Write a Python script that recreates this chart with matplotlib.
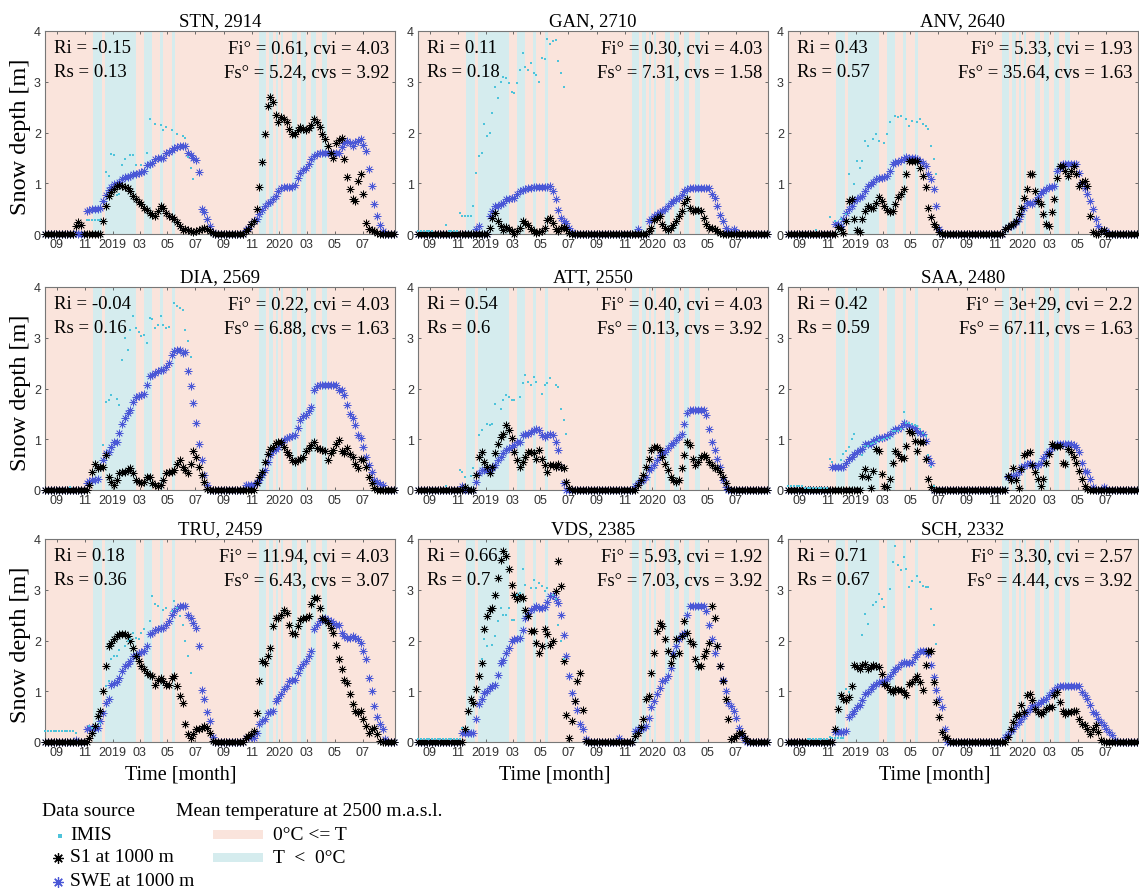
import numpy as np
import pandas as pd
import matplotlib
matplotlib.use("Agg")
import matplotlib.pyplot as plt
import matplotlib.dates as mdates
from matplotlib.patches import Rectangle

SERIF = ["Liberation Serif", "DejaVu Serif"]
SANS = ["Liberation Sans", "DejaVu Sans"]

# ---------------- time sampling: sample k is T0 + 6*k days ----------------
T0 = "2018-08-07"
STEP_DAYS = 6
N_SAMPLES = 128
dates = pd.Timestamp(T0) + pd.to_timedelta(np.arange(N_SAMPLES) * STEP_DAYS, unit="D")

# ---------------- station info ----------------
names = ["STN", "GAN", "ANV", "DIA", "ATT", "SAA", "TRU", "VDS", "SCH"]
elevations = [2914, 2710, 2640, 2569, 2550, 2480, 2459, 2385, 2332]
Ri = ["-0.15", "0.11", "0.43", "-0.04", "0.54", "0.42", "0.18", "0.66", "0.71"]
Rs = ["0.13", "0.18", "0.57", "0.16", "0.6", "0.59", "0.36", "0.7", "0.67"]
Fi = ["0.61", "0.30", "5.33", "0.22", "0.40", "3e+29", "11.94", "5.93", "3.30"]
cvi = ["4.03", "4.03", "1.93", "4.03", "4.03", "2.2", "4.03", "1.92", "2.57"]
Fs = ["5.24", "7.31", "35.64", "6.88", "0.13", "67.11", "6.43", "7.03", "4.44"]
cvs = ["3.92", "1.58", "1.63", "1.63", "3.92", "1.63", "3.07", "3.92", "3.92"]

# periods with mean temperature at 2500 m a.s.l. below 0 degC
cold_start = ["2018-11-19", "2018-12-15", "2019-03-10", "2019-04-15", "2019-05-11",
              "2019-11-17", "2019-12-10", "2019-12-25", "2020-01-04", "2020-01-28",
              "2020-02-17", "2020-03-10", "2020-04-04"]
cold_end = ["2018-12-08", "2019-02-21", "2019-03-28", "2019-04-21", "2019-05-17",
            "2019-12-03", "2019-12-17", "2019-12-30", "2020-01-08", "2020-02-08",
            "2020-02-28", "2020-03-22", "2020-04-15"]

tick_dates = ["2018-09-01", "2018-11-01", "2019-01-01", "2019-03-01", "2019-05-01",
              "2019-07-01", "2019-09-01", "2019-11-01", "2020-01-01", "2020-03-01",
              "2020-05-01", "2020-07-01"]
tick_labels = ["09", "11", "2019", "03", "05", "07", "09", "11", "2020", "03", "05", "07"]

# ---------------- snow depth series [m]: (first sample index, values) ----------------
STN_S1 = [(11, [0.15, 0.23, 0.18]),
          (21, [0.25, 0.56, 0.75, 0.82, 0.88, 0.95, 0.97, 0.95, 0.92, 0.9, 0.85, 0.75, 0.68, 0.63, 0.6,
                0.52, 0.47, 0.42, 0.38, 0.36, 0.45, 0.55, 0.52, 0.42, 0.36, 0.33, 0.3, 0.24, 0.16, 0.08,
                0.1, 0.08, 0.05, 0.03, 0.06, 0.08, 0.1, 0.11, 0.09, 0.05, 0.02]),
          (73, [0.05, 0.1, 0.2, 0.26, 0.5, 0.92, 1.42, 1.97, 2.53, 2.7, 2.6, 2.34, 2.2, 2.3, 2.27, 2.2,
                2.07, 1.97, 1.98, 2.04, 2.1, 2.07, 2.04, 2.08, 2.14, 2.27, 2.2, 2.1, 1.97, 1.87, 1.74,
                1.6, 1.5, 1.8, 1.85, 1.9, 1.48, 1.12, 0.89, 0.69, 0.66, 1.05, 1.18, 0.79, 0.22, 0.1,
                0.08, 0.06, 0.02])]
STN_SWE = [(11, [0.02]),
           (15, [0.45, 0.48, 0.5, 0.5, 0.5, 0.52, 0.66, 0.76, 0.86, 0.93, 0.98, 0.99, 1.02, 1.09, 1.12,
                 1.13, 1.14, 1.18, 1.19, 1.2, 1.22, 1.25, 1.35, 1.37, 1.4, 1.48, 1.49, 1.5, 1.5, 1.6,
                 1.62, 1.65, 1.7, 1.72, 1.73, 1.74, 1.74, 1.6, 1.55, 1.5, 1.45, 1.22, 0.5, 0.43, 0.3,
                 0.16, 0.04]),
           (73, [0.07, 0.12, 0.2, 0.25, 0.3, 0.4, 0.48, 0.56, 0.61, 0.63, 0.69, 0.75, 0.84, 0.9, 0.92,
                 0.92, 0.92, 0.92, 0.97, 1.1, 1.2, 1.26, 1.31, 1.38, 1.48, 1.54, 1.58, 1.6, 1.6, 1.6,
                 1.6, 1.6, 1.6, 1.6, 1.6, 1.72, 1.8, 1.84, 1.8, 1.74, 1.82, 1.84, 1.87, 1.75, 1.64,
                 1.28, 0.95, 0.6, 0.35, 0.17, 0.05])]
STN_IMIS = [(15, [0.28, 0.28, 0.27, 0.27, 0.27, 0.27, None, 1.22, 1.15, 1.58, 1.55, 0.77, 0.78, 1.35,
                  1.48, None, 1.55, 1.55, 1.35, None, 1.35, None, 1.6, 2.27, None, 2.17, None, 2.14,
                  2.04, 2.1, None, 2.04, None, 1.97, None, 1.94, 1.9, 1.51, 1.31, 1.08])]

GAN_S1 = [(26, [0.12, 0.32, 0.41, 0.25, 0.15, 0.08, 0.13, 0.1, 0.05, 0.0, 0.05, 0.12, 0.25, 0.22, 0.18,
                0.1, 0.05, 0.02, 0.03, 0.05, 0.12, 0.28, 0.32, 0.22, 0.1, 0.05, 0.12, 0.13, 0.09, 0.02]),
          (84, [0.05, 0.12, 0.28, 0.32, 0.36, 0.2, 0.12, 0.08, 0.12, 0.18, 0.25, 0.35, 0.45, 0.61, 0.68,
                0.51, 0.45, 0.48, 0.47, 0.45, 0.32, 0.2, 0.12, 0.12, 0.09, 0.05, 0.02])]
GAN_SWE = [(21, [0.09, 0.15]),
           (26, [0.35, 0.45, 0.55, 0.55, 0.6, 0.61, 0.68, 0.68, 0.7, 0.71, 0.78, 0.84, 0.86, 0.88, 0.9,
                 0.91, 0.92, 0.92, 0.92, 0.92, 0.92, 0.92, 0.94, 0.84, 0.68, 0.48, 0.32, 0.25, 0.22,
                 0.12, 0.03]),
           (80, [0.09]),
           (84, [0.25, 0.3, 0.36, 0.4, 0.43, 0.46, 0.5, 0.55, 0.62, 0.66, 0.68, 0.71, 0.76, 0.84, 0.88,
                 0.91, 0.91, 0.91, 0.91, 0.91, 0.91, 0.91, 0.9, 0.78, 0.71, 0.55, 0.38, 0.25, 0.12,
                 0.05, 0.03, 0.09, 0.04])]
GAN_IMIS = [(0, [0.05, 0.05, 0.05, 0.05, 0.05, 0.05, None, None, None, None, 0.18, 0.05, 0.05, 0.05,
                 0.05, 0.41, 0.35, 0.35, 0.35, 0.36, 0.55, 1.2, 1.53, 1.6, 2.16, 1.93, 2.0, 2.39, 2.9,
                 2.68, 3.0, 3.1, 3.07, 2.98, 2.8, 2.78, 2.98, 3.24, 3.57, 3.3, 3.24, 3.37, 3.18, 3.14,
                 3.0, 3.47, 3.44, 3.84, 3.74, 3.8, 3.82, 3.41, 3.18, 2.9])]

ANV_S1 = [(18, [0.13, 0.1, 0.02, 0.26, 0.66, 0.69, 0.3, 0.07, 0.03, 0.3, 0.46, 0.56, 0.52, 0.52, 0.62,
                0.72, 0.66, 0.56, 0.48, 0.43, 0.46, 0.59, 0.72, 0.79, 0.89, 1.18, 1.44, 1.44, 1.44,
                1.44, 1.3, 1.15, 0.92, 0.52, 0.33, 0.2, 0.13, 0.03]),
          (79, [0.1, 0.14, 0.18, 0.2, 0.26, 0.39, 0.52, 0.7, 0.89, 1.18, 1.18, 0.85, 0.66, 0.59, 0.39,
                0.2, 0.16, 0.43, 0.69, 1.11, 1.34, 1.34, 1.25, 1.15, 1.25, 1.34, 1.18, 0.95, 1.02, 1.05,
                0.95, 0.36, 0.03, 0.0, 0.0, 0.05, 0.07])]
ANV_SWE = [(17, [0.2, 0.2, 0.16, 0.3, 0.42, 0.5, 0.56, 0.66, 0.69, 0.72, 0.75, 0.85, 0.95, 0.98, 1.02,
                 1.08, 1.11, 1.11, 1.12, 1.15, 1.25, 1.38, 1.41, 1.41, 1.45, 1.48, 1.52, 1.5, 1.49,
                 1.49, 1.48, 1.44, 1.4, 1.34, 1.18, 1.08, 0.89, 0.56, 0.1]),
           (79, [0.1, 0.13, 0.15, 0.18, 0.23, 0.3, 0.39, 0.52, 0.62, 0.62, 0.59, 0.66, 0.72, 0.8, 0.85,
                 0.89, 0.92, 0.93, 0.95, 1.25, 1.31, 1.38, 1.38, 1.38, 1.38, 1.38, 1.38, 1.2, 1.0, 0.9,
                 0.79, 0.66, 0.49, 0.3, 0.15, 0.05, 0.07, 0.05])]
ANV_IMIS = [(10, [0.07]),
            (15, [0.33, None, 0.26, None, 0.3, None, 0.39, 1.18, None, 0.98, 1.44, 1.31, 1.44, 1.84,
                  1.74, None, 1.87, 1.97, 1.84, None, 1.8, 1.97, 2.2, None, 2.33, 2.3, 2.33, None,
                  2.26, 2.13, 2.23, None, 2.2, 2.26, 2.16, 2.13, 2.07, 1.74, 1.48, 1.18])]

DIA_S1 = [(16, [0.1, 0.36, 0.52, 0.43, 0.45, 0.46, 0.69, 0.26, 0.15, 0.1, 0.2, 0.33, 0.36, 0.36, 0.4,
                0.43, 0.33, 0.2, 0.15, 0.13, 0.16, 0.26, 0.26, 0.13, 0.1, 0.07, 0.1, 0.2, 0.33, 0.35,
                0.36, 0.4, 0.52, 0.59, 0.46, 0.4, 0.33, 0.52, 0.76, 0.66, 0.46, 0.3, 0.16, 0.02]),
          (77, [0.13, 0.25, 0.36, 0.55, 0.7, 0.8, 0.85, 0.92, 0.95, 0.94, 0.85, 0.75, 0.69, 0.59, 0.56,
                0.6, 0.62, 0.66, 0.76, 0.82, 0.89, 0.95, 0.82, 0.8, 0.79, 0.76, 0.59, 0.72, 0.79, 0.9,
                0.99, 0.76, 0.72, 0.82, 0.7, 0.66, 0.52, 0.43, 0.62, 0.59, 0.45, 0.25, 0.13, 0.03])]
DIA_SWE = [(15, [0.13, 0.18, 0.2, 0.2, 0.22, 0.46, 0.6, 0.72, 0.75, 0.85, 0.95, 0.95, 1.12, 1.3, 1.41,
                 1.51, 1.58, 1.74, 1.84, 1.86, 1.87, 1.9, 2.07, 2.24, 2.27, 2.3, 2.34, 2.37, 2.37, 2.43,
                 2.5, 2.66, 2.73, 2.75, 2.76, 2.7, 2.72, 2.34, 2.04, 1.71, 1.32, 0.9, 0.59, 0.3, 0.1]),
           (73, [0.1, 0.1, 0.1, 0.1, 0.16, 0.2, 0.3, 0.4, 0.56, 0.69, 0.76, 0.8, 0.85, 0.92, 0.99, 1.02,
                 1.05, 1.07, 1.09, 1.22, 1.38, 1.45, 1.48, 1.55, 1.64, 1.97, 2.04, 2.07, 2.07, 2.07,
                 2.07, 2.07, 2.07, 2.07, 1.97, 1.97, 1.87, 1.68, 1.5, 1.41, 1.28, 1.09, 1.02, 0.85,
                 0.66, 0.5, 0.36, 0.2, 0.15, 0.12, 0.1])]
DIA_IMIS = [(9, [0.05]),
            (21, [0.89, 1.74, 1.78, 1.87, None, 1.8, 1.68, 2.57, 2.99, 2.76, 3.16, 3.42, 3.19, 3.12,
                  3.03, 3.06, 2.9, 3.39, 3.36, 3.19, 3.26, 3.42, 3.26, 3.19, 3.22, None, 3.68, 3.62,
                  3.59, 3.55, 3.16, 2.93, 2.63])]

ATT_S1 = [(17, [0.05]),
          (21, [0.3, 0.66, 0.75, 0.56, 0.46, 0.33, 0.46, 0.72, 0.9, 1.05, 1.11, 1.28, 1.18, 1.02, 0.75,
                0.59, 0.46, 0.56, 0.66, 0.75, 0.75, 0.72, 0.62, 0.79, 0.62, 0.5, 0.36, 0.49, 0.49, 0.46,
                0.52, 0.45, 0.43, 0.16, 0.03]),
          (80, [0.1, 0.2, 0.3, 0.46, 0.62, 0.79, 0.85, 0.85, 0.79, 0.66, 0.52, 0.39, 0.26, 0.2, 0.16,
                0.2, 0.43, 0.69, 0.95, 0.89, 0.62, 0.49, 0.55, 0.66, 0.69, 0.66, 0.56, 0.49, 0.43, 0.43,
                0.35, 0.26, 0.13, 0.02])]
ATT_SWE = [(16, [0.08]),
           (21, [0.16, 0.33, 0.39, 0.39, 0.39, 0.39, 0.43, 0.49, 0.59, 0.66, 0.72, 0.78, 0.82, 0.85,
                 0.89, 0.95, 0.95, 1.08, 1.11, 1.11, 1.15, 1.18, 1.21, 1.18, 1.08, 1.05, 1.08, 1.11,
                 1.08, 0.95, 0.79, 0.46, 0.13]),
           (79, [0.07, 0.13, 0.17, 0.2, 0.26, 0.39, 0.43, 0.5, 0.6, 0.69, 0.75, 0.75, 0.82, 0.88, 0.92,
                 0.98, 1.05, 1.11, 1.31, 1.51, 1.57, 1.57, 1.57, 1.57, 1.57, 1.57, 1.48, 1.21, 0.95,
                 0.79, 0.62, 0.46, 0.2, 0.05])]
ATT_IMIS = [(10, [0.07]),
            (15, [0.39, 0.36, 0.26, None, 0.28, 0.43, None, 1.08, 1.18, None, 1.31, 1.28, 1.31, 1.7,
                  None, 1.6, 1.77, 1.87, 1.84, 1.77, 1.77, None, 1.84, 2.1, 2.26, 2.13, 2.07, 2.23,
                  2.13, None, 1.9, 2.07, 2.1, 2.2, None, 2.07, 2.03, 1.6, 1.38, 1.11])]

SAA_S1 = [(27, [0.28, 0.41, 0.25, 0.03, 0.38, 0.8, 0.77, 0.31, 0.08, 0.05, 0.22, 0.54, 0.77, 0.7, 0.64,
                0.64, 0.87, 1.17, 1.13, 0.97, 0.77, 0.94, 0.94, 0.61, 0.22, 0.05]),
          (80, [0.28, 0.2, 0.43, 0.2, 0.03, 0.41, 0.68, 0.73, 0.74, 0.5, 0.35, 0.22, 0.08, 0.22, 0.54,
                0.71, 0.9, 0.87, 0.87, 0.87, 0.54, 0.51, 0.8, 0.74, 0.65, 0.54, 0.38, 0.22, 0.08, 0.02])]
SAA_SWE = [(16, [0.45, 0.45, 0.45, 0.45, 0.45, 0.54, 0.61, 0.65, 0.7, 0.74, 0.78, 0.8, 0.9, 0.9, 0.9,
                 0.97, 1.0, 1.02, 1.03, 1.04, 1.07, 1.1, 1.17, 1.2, 1.2, 1.25, 1.33, 1.3, 1.27, 1.25,
                 1.23, 1.17, 1.13, 1.1, 0.97, 0.64, 0.54]),
           (80, [0.25, 0.28, 0.28, 0.3, 0.35, 0.45, 0.48, 0.51, 0.54, 0.5, 0.48, 0.49, 0.54, 0.64, 0.71,
                 0.77, 0.82, 0.87, 0.9, 0.9, 0.9, 0.9, 0.9, 0.9, 0.88, 0.84, 0.74, 0.54, 0.38, 0.35,
                 0.22, 0.05, 0.0, 0.0, 0.0, 0.05])]
SAA_IMIS = [(0, [0.07] * 6 + [0.03] * 9),
            (15, [0.62, 0.55, None, None, 0.6, 0.7, 0.76, 0.85, 1.0, 1.1, None, None, 0.68, 0.87, 0.87,
                  0.9, 0.93, 0.95, 0.99, 0.99, 1.0, 1.02, 1.04, 1.17, 1.17, 1.17, 1.2, 1.53, 1.33,
                  1.33, 1.3, 1.28, 1.27, 1.2, 1.13, 1.07, 0.68, 0.45, 0.08])]

TRU_S1 = [(16, [0.08, 0.18, 0.31, 0.51, 0.61, 1.0, 1.5, 1.89, 1.95, 2.02, 2.08, 2.12, 2.12, 2.12, 2.08,
                1.99, 1.86, 1.69, 1.6, 1.5, 1.43, 1.36, 1.33, 1.3, 1.12, 1.23, 1.27, 1.2, 1.12, 1.12,
                1.27, 1.3, 1.1, 0.9, 0.77, 0.35, 0.15, 0.07, 0.15, 0.25, 0.25, 0.28, 0.31, 0.28, 0.18,
                0.02]),
          (73, [0.08, 0.12, 0.15, 0.22, 0.58, 1.2, 1.59, 1.56, 1.7, 1.86, 2.28, 2.45, 2.45, 2.51, 2.61,
                2.54, 2.31, 2.15, 2.12, 2.28, 2.4, 2.45, 2.45, 2.48, 2.71, 2.84, 2.84, 2.64, 2.45, 2.41,
                2.35, 2.25, 2.15, 1.92, 1.63, 1.43, 1.23, 1.17, 0.94, 0.74, 0.61, 0.58, 0.61, 0.45,
                0.31, 0.18, 0.25, 0.28, 0.15, 0.02])]
TRU_SWE = [(11, [0.03]),
           (15, [0.25, 0.28, 0.28, 0.28, 0.28, 0.41, 0.58, 0.77, 0.84, 1.13, 1.17, 1.18, 1.27, 1.4, 1.5,
                 1.53, 1.59, 1.69, 1.72, 1.76, 1.78, 1.79, 1.89, 2.12, 2.15, 2.2, 2.22, 2.25, 2.25, 2.31,
                 2.38, 2.5, 2.58, 2.64, 2.68, 2.68, 2.68, 2.51, 2.45, 2.35, 2.25, 1.89, 1.03, 0.84, 0.6,
                 0.41, 0.1]),
           (73, [0.08, 0.1, 0.09, 0.08, 0.18, 0.35, 0.41, 0.46, 0.58, 0.6, 0.61, 0.81, 0.87, 0.95, 1.05,
                 1.1, 1.2, 1.23, 1.23, 1.36, 1.45, 1.53, 1.59, 1.69, 1.8, 2.22, 2.3, 2.38, 2.41, 2.45,
                 2.41, 2.38, 2.35, 2.31, 2.31, 2.15, 2.08, 2.05, 2.05, 2.08, 2.05, 2.02, 1.95, 1.8, 1.63,
                 1.27, 1.0, 0.71, 0.5, 0.35, 0.25, 0.05])]
TRU_IMIS = [(0, [0.22] * 11 + [0.18]),
            (16, [0.31, 0.28, None, None, 0.38, None, 1.1, 1.2, 1.63, 1.69, 1.69, 1.82, None, 1.89,
                  1.99, 2.02, 2.15, 2.05, 2.02, 2.15, 2.22, None, 2.38, 2.87, 2.71, 2.68, None, 2.61,
                  2.64, None, 2.58, 2.77, 2.64, 2.48, 2.31, 1.99, 1.69, 1.36])]

VDS_S1 = [(17, [0.25, 0.61, 0.84, 0.77, 1.04, 1.3, 1.56, 2.22, 2.48, 2.61, 2.64, 2.9, 3.23, 3.59, 3.76,
                3.66, 3.4, 3.1, 2.9, 2.81, 2.87, 2.84, 2.6, 2.48, 2.18, 2.18, 1.95, 1.76, 1.89, 2.22,
                2.12, 1.92, 1.99, 2.97, 3.56, 3.07, 1.59, 0.54, 0.08, 0.41, 0.8, 1.2, 1.36, 0.64, 0.02]),
          (79, [0.12, 0.18, 0.3, 0.45, 0.84, 0.9, 1.36, 1.76, 2.18, 2.35, 2.28, 2.02, 1.79, 1.56, 1.69,
                2.02, 1.76, 2.08, 2.38, 2.15, 2.0, 1.94, 1.63, 1.5, 1.5, 1.69, 1.8, 1.95, 2.68, 2.45,
                1.9, 1.5, 1.2, 0.84, 0.45, 0.05, 0.08, 0.12, 0.18, 0.18, 0.08, 0.02])]
VDS_SWE = [(16, [0.18, 0.18, 0.18, 0.18, 0.18, 0.45, 0.74, 0.85, 0.97, 1.0, 1.07, 1.1, 1.13, 1.33, 1.56,
                 1.62, 1.75, 1.85, 1.99, 2.02, 2.02, 2.05, 2.2, 2.45, 2.55, 2.6, 2.64, 2.68, 2.64, 2.64,
                 2.66, 2.75, 2.87, 2.9, 2.81, 2.74, 2.5, 2.1, 1.7, 1.3, 0.97, 0.8, 0.64, 0.35, 0.25,
                 0.05]),
           (73, [0.07]),
           (79, [0.22, 0.25, 0.25, 0.28, 0.31, 0.48, 0.68, 0.81, 0.95, 1.07, 1.2, 1.23, 1.3, 1.46, 1.76,
                 1.89, 2.02, 2.1, 2.15, 2.51, 2.68, 2.68, 2.68, 2.68, 2.68, 2.68, 2.58, 2.31, 2.02, 1.76,
                 1.89, 1.5, 1.23, 1.0, 0.77, 0.7, 0.61, 0.48, 0.28, 0.12, 0.03])]
VDS_IMIS = [(0, [0.05] * 16),
            (16, [0.28, None, None, None, None, None, None, 1.63, 2.02, 1.89, None, 1.92, 2.08, 2.38,
                  2.64, 2.51, 2.51, 2.64, 2.41, 2.41, 2.9, 2.94, 3.4, 3.1, None, 3.04, 3.2, 3.04, 3.13,
                  3.07, 2.97, 3.04, None, 2.9, 2.81, 2.31, 1.99, 1.63])]

SCH_S1 = [(17, [0.26, 0.66, 0.92, 0.85, 0.82, 0.89, 1.11, 1.51, 1.48, 1.44, 1.51, 1.54, 1.44, 1.48, 1.51,
                1.5, 1.48, 1.34, 1.15, 1.11, 1.02, 0.98, 1.05, 1.02, 1.02, 0.98, 0.92, 1.15, 1.18, 1.25,
                1.31, 1.18, 1.02, 1.51, 1.8, 1.8, 1.18, 0.79, 0.49, 0.2, 0.1, 0.08]),
          (80, [0.1, 0.26, 0.4, 0.52, 0.56, 0.72, 0.59, 0.92, 0.95, 0.82, 0.66, 0.59, 0.56, 0.59, 0.66,
                0.69, 0.69, 0.92, 0.98, 0.79, 0.62, 0.56, 0.59, 0.6, 0.62, 0.62, 0.46, 0.36, 0.33, 0.25,
                0.16, 0.26, 0.33, 0.2, 0.03])]
SCH_SWE = [(17, [0.2, 0.2, 0.2, 0.2, 0.22, 0.49, 0.56, 0.62, 0.69, 0.72, 0.82, 0.95, 0.98, 1.05, 1.1,
                 1.15, 1.18, 1.19, 1.21, 1.25, 1.3, 1.38, 1.44, 1.48, 1.54, 1.57, 1.55, 1.55, 1.57, 1.67,
                 1.74, 1.8, 1.8, 1.8, 1.74, 1.51, 1.28, 1.02, 0.85, 0.69, 0.26]),
           (79, [0.1, 0.16, 0.22, 0.26, 0.33, 0.39, 0.46, 0.52, 0.59, 0.66, 0.72, 0.69, 0.75, 0.79, 0.82,
                 0.85, 0.92, 0.98, 1.02, 1.08, 1.1, 1.11, 1.11, 1.11, 1.11, 1.11, 1.11, 1.11, 0.98, 0.92,
                 0.85, 0.72, 0.6, 0.56, 0.46, 0.39, 0.33, 0.26, 0.2, 0.13, 0.03])]
SCH_IMIS = [(7, [0.05] * 8),
            (15, [0.1, 0.08, 0.08, 0.08, 0.08, 0.08, 1.05, 0.98, None, None, None, None, 2.1, 2.52, 2.33,
                  None, 2.69, 2.75, 2.92, 2.82, 2.66, None, 3.02, 3.54, 3.87, 3.48, 3.38, 3.64, 3.41,
                  3.05, 3.18, None, 3.28, 3.15, 3.08, 3.05, 3.05, 2.62, 2.3, 1.93])]

S1_ALL = [STN_S1, GAN_S1, ANV_S1, DIA_S1, ATT_S1, SAA_S1, TRU_S1, VDS_S1, SCH_S1]
SWE_ALL = [STN_SWE, GAN_SWE, ANV_SWE, DIA_SWE, ATT_SWE, SAA_SWE, TRU_SWE, VDS_SWE, SCH_SWE]
IMIS_ALL = [STN_IMIS, GAN_IMIS, ANV_IMIS, DIA_IMIS, ATT_IMIS, SAA_IMIS, TRU_IMIS, VDS_IMIS, SCH_IMIS]


def build(segments, fill):
    arr = np.full(N_SAMPLES, fill, dtype=float)
    for start, vals in segments:
        v = np.array([np.nan if x is None else x for x in vals], dtype=float)
        end = min(N_SAMPLES, start + len(v))
        arr[start:end] = v[:end - start]
    return arr


# ---------------- style ----------------
PINK = "#FAE4DC"
COLD = "#D5ECEE"
C_IMIS = "#4EC3DA"
C_S1 = "#000000"
C_SWE = "#4A57D6"
AST = (8, 2, 0)

W, H = 1139, 895
fig = plt.figure(figsize=(W / 100, H / 100), dpi=100)

ov = fig.add_axes([0, 0, 1, 1])
ov.set_xlim(0, W)
ov.set_ylim(H, 0)
ov.axis("off")

col_left = [45, 418, 788]
row_top = [32, 288, 540]
ax_w, ax_h = 350, 203

xnum_ticks = mdates.date2num(pd.to_datetime(tick_dates))
x0 = mdates.date2num(pd.Timestamp("2018-08-06"))
x1 = mdates.date2num(pd.Timestamp("2020-09-10"))

for k in range(9):
    r, c = divmod(k, 3)
    ax = fig.add_axes([col_left[c] / W, 1 - (row_top[r] + ax_h) / H, ax_w / W, ax_h / H])
    ax.set_facecolor(PINK)
    for s, e in zip(cold_start, cold_end):
        ax.axvspan(mdates.date2num(pd.Timestamp(s)), mdates.date2num(pd.Timestamp(e)),
                   color=COLD, lw=0, zorder=0.5)
    s1 = build(S1_ALL[k], 0.0)
    swe = build(SWE_ALL[k], 0.0)
    imis = build(IMIS_ALL[k], np.nan)
    ax.plot(dates, swe, ls="none", marker=AST, ms=5.6, mew=0.5, color=C_SWE, clip_on=False, zorder=3)
    ax.plot(dates, s1, ls="none", marker=AST, ms=5.6, mew=0.5, color=C_S1, clip_on=False, zorder=4)
    ax.plot(dates, imis, ls="none", marker="s", ms=1.9, mew=0, color=C_IMIS, clip_on=False, zorder=5)

    ax.set_xlim(x0, x1)
    ax.set_ylim(0, 4)
    ax.set_yticks([0, 1, 2, 3, 4])
    ax.set_xticks(xnum_ticks)
    ax.set_xticklabels(tick_labels)
    ax.tick_params(direction="in", length=2.5, width=0.6, color="#555555", labelcolor="#333333",
                   labelsize=9, top=True, right=True, pad=3)
    for lab in ax.get_xticklabels() + ax.get_yticklabels():
        lab.set_fontfamily(SANS)
    for sp in ax.spines.values():
        sp.set_color("#777777")
        sp.set_linewidth(0.8)
    ax.set_title(f"{names[k]}, {elevations[k]}", fontfamily=SERIF, fontsize=13.5, pad=4)
    tk = dict(transform=ax.transAxes, va="center", fontsize=13.5, family=SERIF, zorder=2)
    ax.text(0.026, 0.92, f"Ri = {Ri[k]}", ha="left", **tk)
    ax.text(0.026, 0.80, f"Rs = {Rs[k]}", ha="left", **tk)
    ax.text(0.984, 0.92, f"Fi\u00b0 = {Fi[k]}, cvi = {cvi[k]}", ha="right", **tk)
    ax.text(0.984, 0.80, f"Fs\u00b0 = {Fs[k]}, cvs = {cvs[k]}", ha="right", **tk)

# axis labels
for r in range(3):
    ov.text(21, row_top[r] + ax_h / 2 + 3, "Snow depth [m]", rotation=90, ha="center", va="center",
            fontsize=17.5, family=SERIF)
for xc in [181, 555, 935]:
    ov.text(xc, 775, "Time [month]", ha="center", va="center", fontsize=14.5, family=SERIF)

# legend
lt = dict(va="center", ha="left", fontsize=14, family=SERIF)
ov.text(42, 812, "Data source", **lt)
ov.text(176, 812, "Mean temperature at 2500 m.a.s.l.", **lt)
ov.plot([60], [837], ls="none", marker="s", ms=3.5, mew=0, color=C_IMIS)
ov.text(70, 836, "IMIS", **lt)
ov.plot([58], [859], ls="none", marker=AST, ms=7.5, mew=0.9, color=C_S1)
ov.text(70, 858, "S1 at 1000 m", **lt)
ov.plot([58], [883], ls="none", marker=AST, ms=7.5, mew=0.9, color=C_SWE)
ov.text(70, 882, "SWE at 1000 m", **lt)
ov.add_patch(Rectangle((213, 831), 50, 9, color=PINK, lw=0))
ov.text(273, 836, "0\u00b0C <= T", **lt)
ov.add_patch(Rectangle((213, 854), 50, 9, color=COLD, lw=0))
ov.text(273, 859, "T  <  0\u00b0C", **lt)

fig.savefig("out.png", dpi=100)
